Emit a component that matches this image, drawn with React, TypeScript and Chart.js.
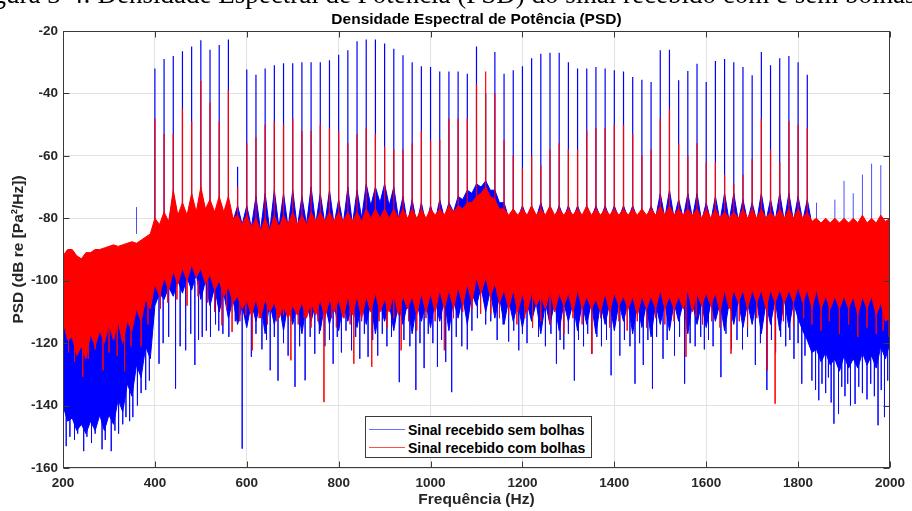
import React, { useEffect, useRef } from 'react';
import { Chart, registerables } from 'chart.js';

Chart.register(...registerables);

// ---------- text ----------
const captionText = 'Figura 3-4: Densidade Espectral de Potência (PSD) do sinal recebido com e sem bolhas';
const chartTitle = 'Densidade Espectral de Potência (PSD)';
const xTitle = 'Frequência (Hz)';
const yTitle = 'PSD (dB re [Pa²/Hz])';
const legendLabels = ['Sinal recebido sem bolhas', 'Sinal recebido com bolhas'];

// ---------- ticks ----------
const xTickValues = [200, 400, 600, 800, 1000, 1200, 1400, 1600, 1800, 2000];
const yTickValues = [-160, -140, -120, -100, -80, -60, -40, -20];

// ---------- noise band grid (Hz) ----------
const bandFreqs = [
  200, 210, 220, 230, 240, 250, 260, 270, 280, 290,
  300, 310, 320, 330, 340, 350, 360, 370, 380, 390,
  400, 410, 420, 430, 440, 450, 460, 470, 480, 490,
  500, 510, 520, 530, 540, 550, 560, 570, 580, 590,
  600, 610, 620, 630, 640, 650, 660, 670, 680, 690,
  700, 710, 720, 730, 740, 750, 760, 770, 780, 790,
  800, 810, 820, 830, 840, 850, 860, 870, 880, 890,
  900, 910, 920, 930, 940, 950, 960, 970, 980, 990,
  1000, 1010, 1020, 1030, 1040, 1050, 1060, 1070, 1080, 1090,
  1100, 1110, 1120, 1130, 1140, 1150, 1160, 1170, 1180, 1190,
  1200, 1210, 1220, 1230, 1240, 1250, 1260, 1270, 1280, 1290,
  1300, 1310, 1320, 1330, 1340, 1350, 1360, 1370, 1380, 1390,
  1400, 1410, 1420, 1430, 1440, 1450, 1460, 1470, 1480, 1490,
  1500, 1510, 1520, 1530, 1540, 1550, 1560, 1570, 1580, 1590,
  1600, 1610, 1620, 1630, 1640, 1650, 1660, 1670, 1680, 1690,
  1700, 1710, 1720, 1730, 1740, 1750, 1760, 1770, 1780, 1790,
  1800, 1810, 1820, 1830, 1840, 1850, 1860, 1870, 1880, 1890,
  1900, 1910, 1920, 1930, 1940, 1950, 1960, 1970, 1980, 1990,
  2000,
];

// "com bolhas" (red) dense band: upper and lower envelope (dB)
const redTop = [
  -92, -90, -90, -92, -93, -91, -91, -90, -90, -89.5,
  -89, -88.5, -89, -88.5, -88, -87.5, -88, -87, -86, -85,
  -80, -82, -78, -81, -71, -79, -75, -79, -72, -78,
  -70, -77, -74, -78, -73, -78, -73, -80, -79, -82,
  -79, -83, -80, -84, -80, -84, -79, -83, -79, -82,
  -78, -82, -79, -82, -78, -81, -78, -81, -78, -81,
  -78, -81, -78, -81, -78, -81, -77, -80, -77, -80,
  -77, -80, -77, -80, -77, -80, -77, -80, -77, -80,
  -77, -79, -77, -79, -76, -78, -76, -77, -75, -75,
  -73, -72, -70, -73, -74, -77, -77, -79, -77, -79,
  -77, -79, -76, -79, -77, -79, -76, -79, -77, -79,
  -77, -79, -77, -79, -76, -79, -77, -79, -77, -79,
  -77, -79, -77, -79, -77, -79, -77, -79, -77, -79,
  -76, -79, -76, -79, -77, -79, -77, -79, -77, -80,
  -77, -80, -77, -80, -78, -80, -78, -80, -77, -80,
  -77, -80, -77, -80, -78, -80, -77, -80, -77, -80,
  -77, -80, -78, -81, -80, -81.5, -80, -81.5, -80, -81.5,
  -80, -81.5, -80, -81.5, -79, -81.5, -80, -81.5, -79, -81,
  -80,
];
const redBottom = [
  -113, -119, -118, -124, -121, -125, -117, -121, -116, -120,
  -114, -119, -113, -120, -113, -116, -109, -113, -106, -109,
  -101, -105, -99, -103, -97, -101, -96, -100, -95, -99,
  -96, -101, -98, -103, -100, -105, -102, -107, -105, -109,
  -106, -111, -106, -112, -106, -110, -107, -112, -108, -112,
  -108, -111, -107, -112, -107, -111, -106, -112, -106, -110,
  -106, -112, -105, -111, -105, -112, -105, -110, -104, -110,
  -106, -110, -104, -111, -105, -109, -105, -111, -104, -110,
  -104, -110, -103, -109, -103, -109, -102, -108, -101, -107,
  -99, -104, -99, -105, -101, -107, -103, -109, -103, -110,
  -104, -110, -104, -108, -105, -109, -103, -110, -104, -108,
  -104, -110, -103, -109, -105, -109, -106, -110, -104, -110,
  -104, -108, -105, -109, -105, -111, -105, -109, -105, -109,
  -103, -109, -105, -109, -105, -109, -103, -110, -104, -108,
  -104, -108, -104, -110, -103, -109, -103, -107, -103, -109,
  -103, -107, -103, -109, -103, -107, -103, -107, -103, -107,
  -102, -107, -103, -109, -103, -109, -105, -109, -105, -109,
  -105, -109, -105, -111, -105, -109, -105, -111, -107, -113,
  -112,
];

// "sem bolhas" (blue) dense band: upper and lower envelope (dB)
const blueTop = [
  -93, -91, -91, -93, -94, -92, -92, -91, -91, -90.5,
  -90, -89.5, -90, -89.5, -89, -88.5, -89, -88, -87, -86,
  -81, -83, -79, -82, -72, -80, -76, -80, -73, -79,
  -71, -78, -75, -79, -74, -79, -74, -81, -76, -82,
  -76, -83, -73, -84, -72, -84, -71, -83, -72, -83,
  -71, -83, -73, -82, -70, -82, -72, -82, -71, -82,
  -74, -82, -70, -82, -71, -80, -69, -76, -70, -75,
  -69, -76, -70, -80, -73, -82, -74, -82, -75, -82,
  -76, -81, -74, -80, -75, -78, -73, -74, -71, -72,
  -69, -70, -68, -71, -71, -75, -75, -80, -77, -80,
  -76, -80, -76, -80, -75, -80, -76, -80, -76, -80,
  -76, -80, -76, -80, -76, -80, -76, -80, -76, -80,
  -76, -80, -76, -80, -76, -80, -77, -80, -76, -80,
  -72, -80, -71, -80, -74, -80, -72, -80, -72, -81,
  -75, -81, -73, -81, -72, -81, -72, -81, -74, -81,
  -75, -81, -72, -81, -74, -81, -72, -81, -72, -81,
  -73, -81, -74, -82, -81, -82.5, -81, -82.5, -81, -82.5,
  -81, -82.5, -81, -82.5, -80, -82.5, -81, -82.5, -80, -82,
  -81,
];
const blueBottom = [
  -140, -145, -144, -148, -146, -149, -145, -148, -143, -148,
  -143, -146, -138, -142, -133, -137, -127, -131, -121, -125,
  -108, -104, -106, -102, -105, -100, -104, -99, -103, -98,
  -106, -100, -108, -102, -110, -104, -112, -106, -114, -108,
  -115, -107, -113, -107, -117, -107, -114, -107, -116, -107,
  -114, -107, -117, -107, -113, -107, -116, -107, -114, -107,
  -116, -107, -113, -107, -115, -107, -114, -107, -117, -107,
  -113, -107, -116, -107, -114, -107, -117, -107, -113, -107,
  -115, -106, -113, -106, -116, -106, -112, -105, -114, -104,
  -108, -102, -110, -103, -112, -105, -114, -106, -113, -107,
  -115, -107, -113, -107, -117, -107, -114, -107, -116, -107,
  -113, -107, -116, -107, -114, -107, -117, -107, -114, -107,
  -116, -107, -113, -107, -117, -107, -115, -107, -118, -107,
  -114, -107, -116, -107, -113, -107, -117, -107, -114, -107,
  -115, -107, -113, -107, -116, -107, -114, -106, -115, -107,
  -114, -106, -117, -107, -114, -106, -116, -106, -115, -107,
  -112, -116, -119, -123, -122, -126, -123, -127, -125, -129,
  -124, -128, -125, -128, -123, -127, -124, -128, -121, -125,
  -120,
];

// ---------- harmonic peaks (every 20 Hz from 400 to 1820 Hz) ----------
const harmonicFreqs = [
  400, 420, 440, 460, 480, 500, 520, 540, 560, 580,
  600, 620, 640, 660, 680, 700, 720, 740, 760, 780,
  800, 820, 840, 860, 880, 900, 920, 940, 960, 980,
  1000, 1020, 1040, 1060, 1080, 1100, 1120, 1140, 1160, 1180,
  1200, 1220, 1240, 1260, 1280, 1300, 1320, 1340, 1360, 1380,
  1400, 1420, 1440, 1460, 1480, 1500, 1520, 1540, 1560, 1580,
  1600, 1620, 1640, 1660, 1680, 1700, 1720, 1740, 1760, 1780,
  1800, 1820,
];
const bluePeaks = [
  -32, -29, -28, -26.5, -25, -23, -26, -24.5, -22.7, -63.5,
  -32.3, -34, -32, -31, -30.3, -30.3, -30, -30, -30, -29.4,
  -27.6, -26.2, -23.3, -22.7, -22.7, -24, -25.7, -27.8, -30, -31.3,
  -31.5, -33, -33, -33, -33.7, -25, -40, -26.7, -33.7, -32.6,
  -31.3, -28.7, -27.3, -27, -27, -30, -32, -32, -31.5, -32,
  -32.6, -33, -34.7, -35.6, -36.3, -26.2, -26, -35.8, -32.8, -30.5,
  -36.3, -29.6, -29, -30, -31.5, -34.2, -26.7, -31, -28.7, -28,
  -30, -34,
];
const redPeaks = [
  -48, -53, -53, -45, -49, -36, -43, -49, -39, -70,
  -56, -54, -50, -49, -50, -48, -52, -52, -50, -51,
  -52, -56, -53, -51, -53, -57, -58, -58, -56, -52,
  -55, -55, -48, -48, -48, -37, -33, -40, -55, -60,
  -64, -60, -63, -58, -56, -58, -58, -52, -51, -51,
  -50, -50, -53, -60, -58, -48, -45, -56, -60, -56,
  -62, -62, -66, -69, -66, -61, -48, -58, -62, -49,
  -50, -51,
];

// other isolated upward lines of the blue spectrum
const blueExtraFreqs = [360, 1840, 1880, 1900, 1920, 1940, 1960, 1980, 2000];
const blueExtraPeaks = [-76.4, -75, -74, -68, -72, -66, -62.5, -63, -73];

// ---------- deep downward lines ----------
const blueDownFreqs = [
  207, 215, 225, 232, 245, 252, 262, 270, 285, 292, 305, 313, 321, 330, 337, 345, 352, 362, 370, 380, 388,
  409, 418, 430, 445, 455, 467, 478, 487, 495, 503, 512, 521, 532, 539, 548, 561, 575, 590,
  610, 620, 633, 643, 651, 660, 668, 680, 690, 705, 715, 727, 738, 748, 758, 770, 780, 788, 797,
  806, 816, 828, 837, 846, 856, 864, 874, 885, 895, 905, 915, 932, 942, 955, 968, 977, 986, 995,
  1005, 1015, 1024, 1033, 1046, 1056, 1068, 1080, 1090, 1102, 1120, 1131, 1145, 1158, 1170, 1181, 1192, 1200,
  1210, 1222, 1235, 1250, 1262, 1274, 1282, 1290, 1300, 1313, 1322, 1333, 1342, 1351, 1362, 1372, 1383, 1393,
  1412, 1422, 1434, 1445, 1455, 1463, 1473, 1483, 1492, 1506, 1515, 1531, 1542, 1553, 1565, 1576, 1588, 1596,
  1605, 1615, 1632, 1643, 1655, 1667, 1679, 1690, 1707, 1718, 1732, 1742, 1751, 1762, 1773, 1782, 1791, 1800, 1808, 1815,
  1830, 1838, 1845, 1852, 1860, 1866, 1872, 1878, 1888, 1895, 1902, 1908, 1914, 1924, 1932, 1940, 1950, 1958, 1966, 1974, 1981, 1988, 1995,
];
const blueDownValues = [
  -153, -150, -151, -149, -154.6, -150, -152, -149, -154, -151, -154.6, -148, -149, -146, -143.7, -145, -143.7, -140, -136, -135, -132,
  -126.6, -120, -118, -134.6, -121, -122.3, -117, -127, -119, -118, -116, -118, -114, -116, -117, -118, -113, -153.8,
  -124.4, -117, -122, -119, -128.7, -118, -132, -120, -124, -134, -121, -131.9, -118, -123.4, -117, -121, -119, -126.6, -118,
  -123, -116, -122.3, -118, -125, -117, -124.4, -119, -124, -117, -121, -118, -132.5, -119, -121, -135, -120, -128, -117,
  -120, -127.6, -119, -126, -135.7, -118, -121, -122, -116, -112, -114, -113, -119, -114, -119.5, -116, -122.3, -117,
  -120, -115, -118, -121, -117, -126.6, -119, -122, -117, -132, -119, -121, -117, -123.4, -118, -121, -119, -130.3,
  -124, -119, -121, -133, -120, -127, -119, -134.6, -118, -125, -119, -124, -118, -133, -120, -121, -118, -122,
  -119, -121, -130.9, -117, -122, -119, -122, -118, -127, -120, -135, -119, -123, -118, -121, -119, -125, -120, -133, -124,
  -132, -135, -138.3, -133, -136, -131, -139, -145.8, -142.6, -134, -137, -133, -140, -139.5, -134, -136, -138, -133, -137, -146.3, -135, -143.7, -132,
];
const redDownFreqs = [
  212, 225, 243, 255, 270, 287, 300, 318, 334, 348, 370, 385,
  412, 428, 448, 470, 494, 515, 530, 546, 556, 568, 585, 598,
  612, 627, 645, 665, 680, 696, 712, 725, 740, 755, 768, 785, 795,
  812, 825, 833, 850, 872, 888, 905, 920, 936, 952, 970, 990,
  1010, 1030, 1050, 1070, 1090, 1109, 1131, 1150, 1170, 1188,
  1205, 1222, 1240, 1260, 1290, 1310, 1330, 1351, 1370, 1390,
  1410, 1428, 1450, 1470, 1490, 1510, 1530, 1556, 1578, 1592,
  1612, 1630, 1654, 1672, 1690, 1710, 1733, 1750, 1768, 1790, 1812,
  1830, 1850, 1868, 1890, 1910, 1930, 1950, 1970, 1985, 1998,
];
const redDownValues = [
  -123, -126, -130.8, -125, -122, -128.7, -123, -124, -129, -121, -121, -114,
  -109, -107, -106, -108, -105, -107, -110, -114.3, -109, -116.4, -113, -111,
  -122.3, -112, -114, -113, -111, -125.5, -114, -112, -115, -113, -138.9, -112, -115,
  -112, -114, -126.6, -113, -127.6, -113, -115, -112, -122.3, -113, -116, -112,
  -113, -122.3, -112, -110, -109, -110.6, -110.6, -112, -111, -114,
  -112, -115, -113, -114, -117, -112, -114, -123.4, -112, -115,
  -113, -116, -113, -115, -112, -114, -113, -124.4, -111.6, -114,
  -113, -115, -123.4, -113, -115, -112, -128.7, -139.4, -113, -115, -112,
  -114, -116, -113, -117, -114, -118, -115, -117, -116, -118,
];

// base levels (inside the dense bands) from which isolated lines start
const UP_BASE = -85;
const DOWN_BASE = -100;

const FONT = '"Liberation Sans", Arial, Helvetica, sans-serif';
const RED = 'rgb(255,0,0)';
const BLUE = 'rgb(0,0,255)';

function points(xs: number[], ys: number[]) {
  return xs.map((x, i) => ({ x, y: ys[i] }));
}
function spikes(xs: number[], base: number, ys: number[]) {
  const out: { x: number; y: number | null }[] = [];
  xs.forEach((x, i) => {
    out.push({ x, y: base }, { x, y: ys[i] }, { x, y: null });
  });
  return out;
}

const framePlugin = {
  id: 'frameAndTitle',
  afterDatasetsDraw(chart: any) {
    const { ctx, chartArea, scales } = chart;
    const { left, right, top, bottom } = chartArea;
    ctx.save();
    ctx.strokeStyle = '#3a3a3a';
    ctx.lineWidth = 1;
    const L = Math.round(left) + 0.5;
    const R = Math.round(right) - 0.5;
    const T = Math.round(top) + 0.5;
    const B = Math.round(bottom) - 0.5;
    ctx.strokeRect(L, T, R - L, B - T);
    const tl = 6;
    ctx.beginPath();
    xTickValues.forEach((v) => {
      const px = Math.round(scales.x.getPixelForValue(v)) + 0.5;
      ctx.moveTo(px, B);
      ctx.lineTo(px, B - tl);
      ctx.moveTo(px, T);
      ctx.lineTo(px, T + tl);
    });
    yTickValues.forEach((v) => {
      const py = Math.round(scales.y.getPixelForValue(v)) + 0.5;
      ctx.moveTo(L, py);
      ctx.lineTo(L + tl, py);
      ctx.moveTo(R, py);
      ctx.lineTo(R - tl, py);
    });
    ctx.stroke();
    ctx.fillStyle = '#000';
    ctx.font = `bold 15.5px ${FONT}`;
    ctx.textAlign = 'center';
    ctx.textBaseline = 'middle';
    ctx.fillText(chartTitle, (left + right) / 2, 20);
    ctx.restore();
  },
};

function lineDs(label: string, data: any[], color: string, fill: any = false, width = 1) {
  return {
    type: 'line' as const,
    label,
    data,
    borderColor: color,
    backgroundColor: color,
    borderWidth: width,
    pointRadius: 0,
    pointHoverRadius: 0,
    tension: 0,
    spanGaps: false,
    fill,
  };
}

export default function App() {
  const canvasRef = useRef<HTMLCanvasElement | null>(null);

  useEffect(() => {
    document.body.style.margin = '0';
    const canvas = canvasRef.current;
    if (!canvas) return;
    const chart = new Chart(canvas, {
      type: 'line',
      data: {
        datasets: [
          lineDs(legendLabels[1] + ' (picos)', spikes(harmonicFreqs, UP_BASE, redPeaks), RED, false, 1.2),
          lineDs(legendLabels[1] + ' (vales)', spikes(redDownFreqs, DOWN_BASE, redDownValues), 'rgba(255,0,0,0.8)'),
          lineDs(legendLabels[1], points(bandFreqs, redTop), RED, '+1'),
          lineDs(legendLabels[1] + ' (inf)', points(bandFreqs, redBottom), RED),
          lineDs(legendLabels[0] + ' (picos)', spikes(harmonicFreqs, UP_BASE, bluePeaks), BLUE, false, 1.2),
          lineDs(legendLabels[0] + ' (outros)', spikes(blueExtraFreqs, UP_BASE, blueExtraPeaks), 'rgba(0,0,255,0.7)'),
          lineDs(legendLabels[0] + ' (vales)', spikes(blueDownFreqs, DOWN_BASE, blueDownValues), 'rgba(0,0,255,0.75)'),
          lineDs(legendLabels[0], points(bandFreqs, blueTop), BLUE, '+1'),
          lineDs(legendLabels[0] + ' (inf)', points(bandFreqs, blueBottom), BLUE),
        ] as any,
      },
      options: {
        responsive: false,
        animation: false,
        devicePixelRatio: 1,
        events: [],
        layout: { padding: { top: 31, right: 17, bottom: 0, left: 0 } },
        plugins: {
          legend: { display: false },
          tooltip: { enabled: false },
          title: { display: false },
        },
        scales: {
          x: {
            type: 'linear',
            min: 200,
            max: 2000,
            afterFit: (s: any) => {
              s.height = 43;
            },
            afterBuildTicks: (s: any) => {
              s.ticks = xTickValues.map((v) => ({ value: v }));
            },
            ticks: {
              color: '#262626',
              font: { family: FONT, size: 13.5, weight: 'bold' },
              padding: 7,
              maxRotation: 0,
              autoSkip: false,
              callback: (v: any) => String(v),
            },
            grid: { color: '#e2e2e2', drawTicks: false, lineWidth: 1 },
            border: { display: false },
            title: {
              display: true,
              text: xTitle,
              color: '#262626',
              font: { family: FONT, size: 15.5, weight: 'bold' },
              padding: { top: 0, bottom: 2 },
            },
          },
          y: {
            type: 'linear',
            min: -160,
            max: -20,
            afterFit: (s: any) => {
              s.width = 63;
            },
            afterBuildTicks: (s: any) => {
              s.ticks = yTickValues.map((v) => ({ value: v }));
            },
            ticks: {
              color: '#262626',
              font: { family: FONT, size: 13.5, weight: 'bold' },
              padding: 5,
              callback: (v: any) => String(v),
            },
            grid: { color: '#e2e2e2', drawTicks: false, lineWidth: 1 },
            border: { display: false },
            title: {
              display: true,
              text: yTitle,
              color: '#262626',
              font: { family: FONT, size: 15.5, weight: 'bold' },
              padding: { top: 9, bottom: 0 },
            },
          },
        },
      } as any,
      plugins: [framePlugin],
    });
    return () => chart.destroy();
  }, []);

  return (
    <div style={{ position: 'relative', width: 912, height: 511, overflow: 'hidden', background: '#fff' }}>
      <canvas ref={canvasRef} width={912} height={511} style={{ position: 'absolute', left: 0, top: 0 }} />
      <div
        style={{
          position: 'absolute',
          left: -30,
          top: -18.6,
          font: '27px "Liberation Serif", "Times New Roman", serif',
          lineHeight: '27px',
          whiteSpace: 'nowrap',
          color: '#000',
        }}
      >
        {captionText}
      </div>
      <div
        style={{
          position: 'absolute',
          left: 365,
          top: 416,
          width: 227,
          height: 42,
          boxSizing: 'border-box',
          border: '1px solid #3a3a3a',
          background: '#fff',
          font: `bold 14px ${FONT}`,
          color: '#000',
        }}
      >
        <div style={{ position: 'absolute', left: 3, top: 12, width: 36, height: 1, background: 'rgb(110,110,255)' }} />
        <div style={{ position: 'absolute', left: 42, top: 3.5, lineHeight: '18px', whiteSpace: 'nowrap' }}>
          {legendLabels[0]}
        </div>
        <div style={{ position: 'absolute', left: 3, top: 30, width: 36, height: 1, background: 'rgb(255,80,80)' }} />
        <div style={{ position: 'absolute', left: 42, top: 21.5, lineHeight: '18px', whiteSpace: 'nowrap' }}>
          {legendLabels[1]}
        </div>
      </div>
    </div>
  );
}
